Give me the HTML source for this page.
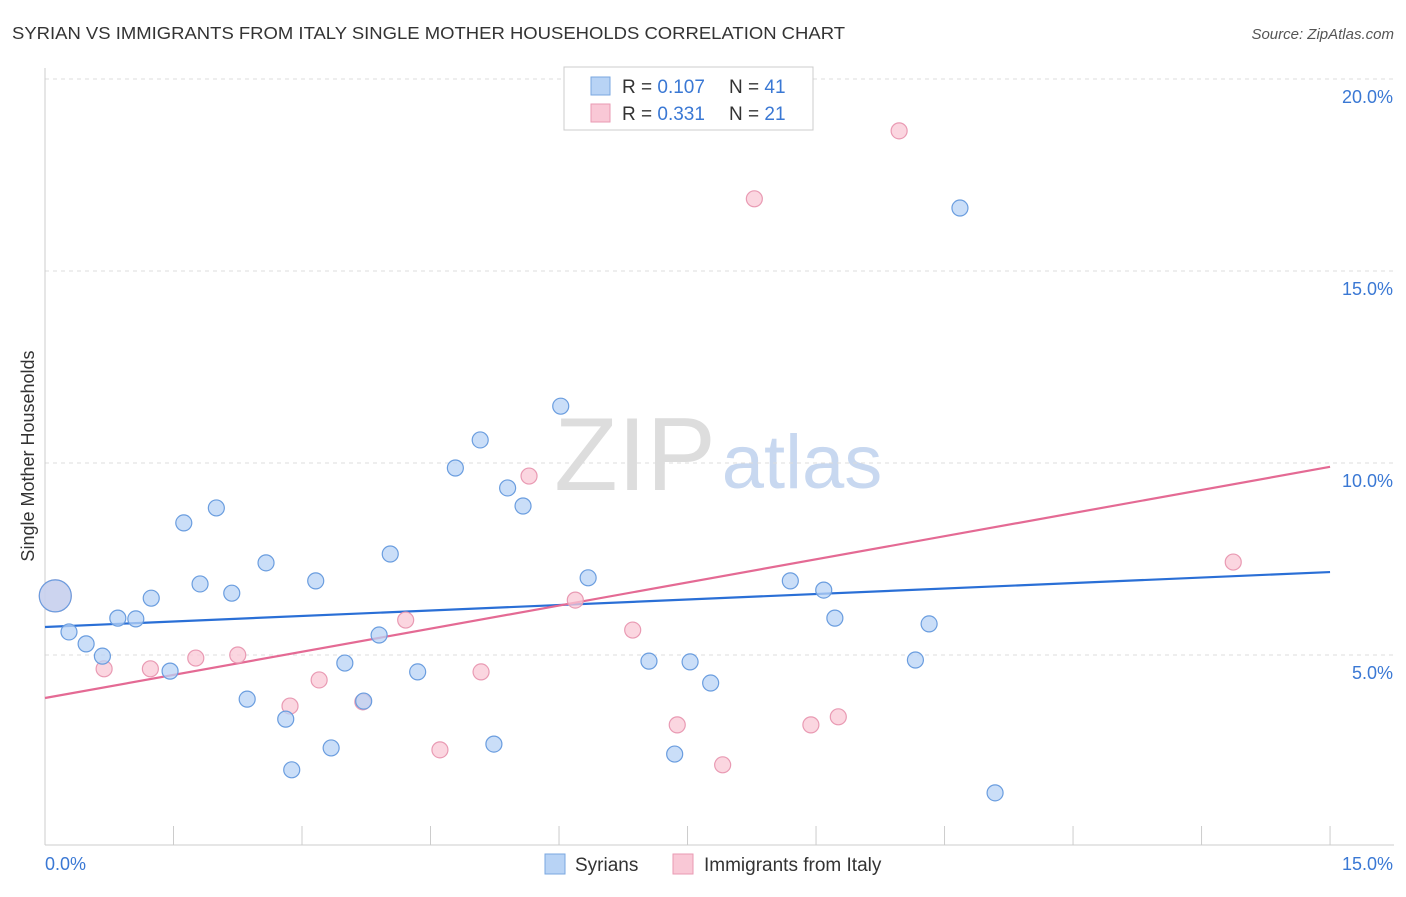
<!DOCTYPE html>
<html><head><meta charset="utf-8"><style>
body{margin:0;background:#fff;font-family:"Liberation Sans",sans-serif;}
svg text{font-family:"Liberation Sans",sans-serif;}
</style></head><body>
<svg id="c" width="1406" height="892">
<text x="12" y="39" font-size="17.5" fill="#333" textLength="833" lengthAdjust="spacingAndGlyphs">SYRIAN VS IMMIGRANTS FROM ITALY SINGLE MOTHER HOUSEHOLDS CORRELATION CHART</text>
<text x="1394" y="39" font-size="15" fill="#555" font-style="italic" text-anchor="end">Source: ZipAtlas.com</text>
<text x="34" y="456" font-size="18" fill="#333" text-anchor="middle" transform="rotate(-90 34 456)">Single Mother Households</text>
<text x="635" y="490" font-size="104" fill="#ddd" font-family="Liberation Serif" text-anchor="middle">ZIP</text>
<text x="802" y="488" font-size="76" fill="#c8d8f0" text-anchor="middle">atlas</text>
<g id="grid"></g><g id="axes"></g><g id="trend"></g><g id="pts"></g>
<g>
<rect x="564" y="67" width="249" height="63" fill="#fff" stroke="#ccc"/>
<rect x="591" y="77" width="19" height="18" fill="#b8d3f5" stroke="#7aa7e0"/>
<text x="622" y="93" font-size="19" fill="#333">R = <tspan fill="#3a78d4">0.107</tspan></text>
<text x="729" y="93" font-size="19" fill="#333">N = <tspan fill="#3a78d4">41</tspan></text>
<rect x="591" y="104" width="19" height="18" fill="#f9c8d6" stroke="#e99ab3"/>
<text x="622" y="120" font-size="19" fill="#333">R = <tspan fill="#3a78d4">0.331</tspan></text>
<text x="729" y="120" font-size="19" fill="#333">N = <tspan fill="#3a78d4">21</tspan></text>
</g>
<g>
<rect x="545" y="854" width="20" height="20" fill="#b8d3f5" stroke="#7aa7e0"/>
<text x="575" y="871" font-size="19" fill="#333">Syrians</text>
<rect x="673" y="854" width="20" height="20" fill="#f9c8d6" stroke="#e99ab3"/>
<text x="704" y="871" font-size="19" fill="#333">Immigrants from Italy</text>
</g>
</svg>
<script>
const blueX=[0.12,0.28,0.48,0.67,0.85,1.06,1.24,1.46,1.62,1.81,2.00,2.18,2.36,2.58,2.81,2.88,3.16,3.34,3.50,3.72,3.90,4.03,4.35,4.79,5.08,5.24,5.40,5.58,6.02,6.34,7.05,7.35,7.53,7.77,8.70,9.09,9.22,10.16,10.32,10.68,11.09];
const blueY=[6.54,5.60,5.29,4.97,5.96,5.94,6.48,4.58,8.44,6.85,8.83,6.61,3.85,7.40,3.33,2.01,6.93,2.58,4.79,3.80,5.52,7.63,4.56,9.87,10.60,2.68,9.35,8.88,11.48,7.01,4.84,2.42,4.82,4.27,6.93,6.69,5.96,4.87,5.81,16.64,1.41];
const pinkX=[0.12,0.69,1.23,1.76,2.25,2.86,3.20,3.71,4.21,4.61,5.09,5.65,6.19,6.86,7.38,7.91,8.28,8.94,9.26,9.97,13.87];
const pinkY=[6.54,4.64,4.64,4.92,5.00,3.67,4.35,3.78,5.91,2.53,4.56,9.66,6.43,5.65,3.18,2.14,16.88,3.18,3.39,18.65,7.42];
const blueTrend=[5.73,7.16];
const pinkTrend=[3.88,9.90];
const yTicks=[5,10,15,20];
const xTickLabels=["0.0%","15.0%"];
const NS="http://www.w3.org/2000/svg";
const sx=v=>45+v*85.67, sy=v=>847-v*38.4;
function mk(p,t,a){const e=document.createElementNS(NS,t);for(const k in a)e.setAttribute(k,a[k]);p.appendChild(e);return e;}
const grid=document.getElementById('grid'),axes=document.getElementById('axes'),trend=document.getElementById('trend'),pts=document.getElementById('pts');
yTicks.forEach(v=>{
 const l=mk(grid,'line',{x1:45,x2:1394,y1:sy(v),y2:sy(v),stroke:'#ddd','stroke-dasharray':'4 4'});
 
 
 const t=mk(grid,'text',{x:1393,y:sy(v)+24,'font-size':18,fill:'#3a78d4','text-anchor':'end'});t.textContent=v.toFixed(1)+'%';
 
 
});
mk(axes,'line',{x1:45,x2:45,y1:68,y2:845,stroke:'#ccc'});
mk(axes,'line',{x1:45,x2:1394,y1:845,y2:845,stroke:'#ccc'});
for(let i=0;i<=10;i++){const l=mk(axes,'line',{x1:sx(i*1.5),x2:sx(i*1.5),y1:826,y2:845,stroke:'#ccc'});
 
 }
let t1=mk(axes,'text',{x:45,y:870,'font-size':18,fill:'#3a78d4'});t1.textContent=xTickLabels[0];


let t2=mk(axes,'text',{x:1393,y:870,'font-size':18,fill:'#3a78d4','text-anchor':'end'});t2.textContent=xTickLabels[1];


const bl=mk(trend,'line',{x1:sx(0),x2:sx(15),y1:sy(blueTrend[0]),y2:sy(blueTrend[1]),stroke:'#2a6fd6','stroke-width':2.2});


const pl=mk(trend,'line',{x1:sx(0),x2:sx(15),y1:sy(pinkTrend[0]),y2:sy(pinkTrend[1]),stroke:'#e46a94','stroke-width':2.2});


function draw(X,Y,fill,stroke,name){X.forEach((x,i)=>{const big=i===0;
 const c=mk(pts,'circle',{cx:sx(x),cy:sy(Y[i]),r:big?16:8,fill:fill,'fill-opacity':big?0.7:0.75,stroke:stroke,'stroke-width':1.2});
 
 });}
draw(pinkX,pinkY,'#f9c8d6','#e99ab3','italy-point');
draw(blueX,blueY,'#b8d3f5','#6a9ddf','syrians-point');
</script>
</body></html>
